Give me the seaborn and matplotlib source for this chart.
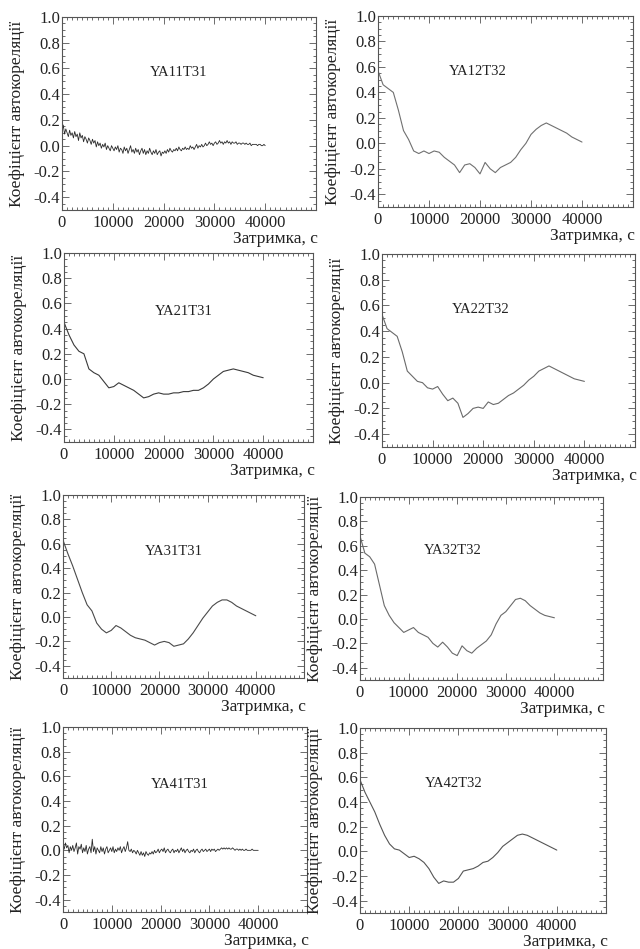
import numpy as np
import pandas as pd
import matplotlib
matplotlib.use("Agg")
import matplotlib.pyplot as plt
from matplotlib.ticker import MultipleLocator, FixedLocator, FormatStrFormatter
import seaborn as sns

# Lags (s) for the smooth series (1000 s step) and the noisy series (250 s step)
lag_smooth = list(range(0, 40001, 1000))
lag_noisy = list(range(0, 40001, 250))

ya11t31 = [0.11, 0.16, 0.09, 0.13, 0.10, 0.07, 0.12, 0.08, 0.10,
           0.06, 0.11, 0.07, 0.09, 0.04, 0.10, 0.06, 0.08,
           0.03, 0.07, 0.05, 0.02, 0.06, 0.04, 0.01, 0.05,
           0.02, 0.04, -0.01, 0.03, 0.00, 0.02, -0.02, 0.01,
           -0.01, 0.02, -0.03, 0.00, -0.02, -0.04, 0.00, -0.02,
           -0.04, -0.01, -0.03, 0.00, -0.05, -0.02, -0.03, -0.06,
           -0.01, -0.04, -0.02, -0.06, -0.03, 0.00, -0.05, -0.03,
           -0.06, -0.02, -0.05, -0.03, -0.07, -0.04, -0.02, -0.06,
           -0.03, -0.07, -0.04, -0.06, -0.02, -0.05, -0.07, -0.04,
           -0.06, -0.03, -0.07, -0.05, -0.04, -0.08, -0.05, -0.06,
           -0.04, -0.06, -0.03, -0.05, -0.02, -0.04, -0.05, -0.03,
           -0.04, -0.02, -0.04, -0.01, -0.03, -0.04, -0.02, -0.03,
           -0.01, -0.03, -0.02, -0.03, 0.00, -0.02, -0.01, -0.03,
           -0.01, 0.01, -0.02, 0.00, -0.01, 0.01, -0.01, 0.00,
           0.02, 0.00, 0.01, 0.03, 0.01, 0.02, 0.00, 0.02,
           0.03, 0.01, 0.02, 0.04, 0.02, 0.03, 0.01, 0.03,
           0.02, 0.04, 0.02, 0.03, 0.01, 0.03, 0.02, 0.02,
           0.03, 0.01, 0.02, 0.02, 0.01, 0.02, 0.02, 0.01,
           0.02, 0.01, 0.01, 0.02, 0.00, 0.01, 0.01, 0.01,
           0.01, 0.00, 0.01, 0.01, 0.00, 0.00, 0.01, 0.00]

ya12t32 = [0.57, 0.46, 0.43, 0.40, 0.26, 0.10, 0.03, -0.06, -0.08, -0.06,
           -0.08, -0.06, -0.07, -0.11, -0.14, -0.17, -0.23, -0.17, -0.16, -0.19,
           -0.24, -0.15, -0.20, -0.23, -0.19, -0.17, -0.15, -0.11, -0.05, 0.00,
           0.07, 0.11, 0.14, 0.16, 0.14, 0.12, 0.10, 0.08, 0.05, 0.03, 0.01]

ya21t31 = [0.45, 0.35, 0.27, 0.22, 0.20, 0.08, 0.05, 0.03, -0.02, -0.07,
           -0.06, -0.03, -0.05, -0.07, -0.09, -0.12, -0.15, -0.14, -0.12, -0.11,
           -0.12, -0.12, -0.11, -0.11, -0.10, -0.10, -0.09, -0.09, -0.07, -0.04,
           0.00, 0.03, 0.06, 0.07, 0.08, 0.07, 0.06, 0.05, 0.03, 0.02, 0.01]

ya22t32 = [0.53, 0.42, 0.39, 0.36, 0.24, 0.09, 0.05, 0.01, 0.00, -0.04,
           -0.05, -0.03, -0.09, -0.14, -0.12, -0.16, -0.27, -0.24, -0.20, -0.19,
           -0.20, -0.15, -0.17, -0.16, -0.13, -0.10, -0.08, -0.05, -0.02, 0.02,
           0.05, 0.09, 0.11, 0.13, 0.11, 0.09, 0.07, 0.05, 0.03, 0.02, 0.01]

ya31t31 = [0.63, 0.52, 0.42, 0.31, 0.20, 0.10, 0.05, -0.05, -0.10, -0.13,
           -0.11, -0.07, -0.09, -0.12, -0.15, -0.17, -0.18, -0.19, -0.21, -0.23,
           -0.21, -0.20, -0.21, -0.24, -0.23, -0.22, -0.18, -0.13, -0.07, -0.01,
           0.04, 0.09, 0.12, 0.14, 0.14, 0.12, 0.09, 0.07, 0.05, 0.03, 0.01]

ya32t32 = [0.68, 0.54, 0.51, 0.45, 0.28, 0.11, 0.03, -0.03, -0.07, -0.11,
           -0.09, -0.07, -0.11, -0.13, -0.15, -0.20, -0.23, -0.19, -0.23, -0.28,
           -0.30, -0.22, -0.26, -0.28, -0.24, -0.21, -0.18, -0.13, -0.04, 0.03,
           0.06, 0.11, 0.16, 0.17, 0.15, 0.11, 0.08, 0.05, 0.03, 0.02, 0.01]

ya41t31 = [0.05, 0.01, 0.06, 0.02, 0.04, -0.02, 0.03, 0.00, 0.04,
           -0.01, 0.02, 0.06, -0.03, 0.03, 0.01, 0.05, -0.02,
           0.02, -0.01, 0.04, -0.03, 0.01, 0.03, -0.02, 0.09,
           -0.01, 0.03, -0.03, 0.02, 0.00, -0.02, 0.03, -0.01,
           0.02, -0.03, 0.01, 0.03, -0.02, 0.00, 0.02, -0.01,
           0.03, -0.02, 0.01, -0.01, 0.02, 0.00, 0.03, -0.02,
           0.01, 0.03, -0.01, 0.02, 0.07, 0.00, -0.01, 0.01,
           -0.02, 0.00, -0.01, -0.03, 0.00, -0.02, -0.04, -0.01,
           -0.04, -0.02, -0.05, -0.01, -0.03, -0.04, -0.02, -0.03,
           -0.01, -0.03, 0.00, -0.02, -0.01, 0.01, -0.02, 0.00,
           0.01, -0.01, 0.02, -0.02, 0.00, 0.01, -0.01, -0.02,
           0.00, 0.01, -0.02, 0.00, -0.01, 0.01, -0.02, 0.00,
           0.02, -0.01, 0.01, -0.02, 0.00, 0.01, -0.01, -0.02,
           0.00, -0.01, 0.01, -0.02, 0.00, 0.01, -0.01, -0.02,
           0.00, 0.01, -0.01, 0.00, 0.01, -0.01, 0.00, 0.01,
           -0.01, 0.01, 0.00, 0.01, -0.01, 0.00, 0.01, 0.00,
           0.01, 0.02, 0.01, 0.02, 0.01, 0.02, 0.01, 0.02,
           0.01, 0.01, 0.02, 0.01, 0.00, 0.01, 0.01, 0.00,
           0.01, 0.00, 0.01, 0.00, 0.00, 0.01, 0.00, 0.00,
           0.00, 0.00, 0.01, 0.00, 0.00, 0.00, 0.00, 0.00]

ya42t32 = [0.58, 0.48, 0.40, 0.32, 0.22, 0.13, 0.06, 0.02, 0.01, -0.02,
           -0.05, -0.04, -0.06, -0.09, -0.14, -0.21, -0.26, -0.24, -0.25, -0.25,
           -0.22, -0.16, -0.15, -0.14, -0.12, -0.09, -0.08, -0.05, -0.01, 0.04,
           0.07, 0.10, 0.13, 0.14, 0.13, 0.11, 0.09, 0.07, 0.05, 0.03, 0.01]

panel_names = ["YA11T31", "YA12T32", "YA21T31", "YA22T32",
               "YA31T31", "YA32T32", "YA41T31", "YA42T32"]
panel_series = [(lag_noisy, ya11t31), (lag_smooth, ya12t32),
                (lag_smooth, ya21t31), (lag_smooth, ya22t32),
                (lag_smooth, ya31t31), (lag_smooth, ya32t32),
                (lag_noisy, ya41t31), (lag_smooth, ya42t32)]

y_label = "Коефіцієнт автокореляції"
x_label = "Затримка, с"

# Pixel boxes (left, top, right, bottom) of each panel on a 640x949 canvas
boxes = [(62, 17, 316, 210), (378, 16, 633, 207),
         (64, 253, 313, 442), (382, 254, 635, 447),
         (63, 495, 304, 678), (360, 497, 603, 680),
         (63, 727, 307, 912), (360, 728, 606, 913)]
title_pos = [(0.46, 0.71), (0.39, 0.71), (0.48, 0.69), (0.39, 0.71),
             (0.46, 0.69), (0.38, 0.71), (0.477, 0.69), (0.38, 0.70)]
line_colors = ["#2a2a2a", "#707070", "#3a3a3a", "#6a6a6a",
               "#4a4a4a", "#6a6a6a", "#2a2a2a", "#555555"]
line_widths = [0.6, 0.8, 0.8, 0.8, 0.8, 0.8, 0.6, 0.8]

sns.set_theme(style="ticks")
plt.rcParams["font.family"] = ["Liberation Serif", "DejaVu Serif"]
plt.rcParams["axes.unicode_minus"] = False

W, H = 640, 949
fig = plt.figure(figsize=(W / 100, H / 100), dpi=100)
fig.patch.set_facecolor("white")

text_color = "#222222"
for (l, t, r, b), name, (lags, vals), tpos, lc, lw in zip(
        boxes, panel_names, panel_series, title_pos, line_colors, line_widths):
    ax = fig.add_axes([l / W, 1 - b / H, (r - l) / W, (b - t) / H])
    df = pd.DataFrame({"lag": lags, "acf": vals})
    sns.lineplot(data=df, x="lag", y="acf", ax=ax, color=lc, linewidth=lw)
    ax.set_xlim(0, 50000)
    ax.set_ylim(-0.5, 1.0)
    ax.xaxis.set_major_locator(FixedLocator([0, 10000, 20000, 30000, 40000]))
    ax.xaxis.set_minor_locator(MultipleLocator(1000))
    ax.yaxis.set_major_locator(FixedLocator([-0.4, -0.2, 0.0, 0.2, 0.4, 0.6, 0.8, 1.0]))
    ax.yaxis.set_minor_locator(MultipleLocator(0.05))
    ax.xaxis.set_major_formatter(FormatStrFormatter("%d"))
    ax.yaxis.set_major_formatter(FormatStrFormatter("%.1f"))
    ax.tick_params(which="both", direction="in", top=True, right=True,
                   colors="#555555", labelcolor=text_color, width=0.6)
    ax.tick_params(which="major", length=5)
    ax.tick_params(which="minor", length=2.5)
    ax.tick_params(axis="y", which="major", pad=1.5, labelsize=12)
    ax.tick_params(axis="x", which="major", pad=3.5, labelsize=12)
    for sp in ax.spines.values():
        sp.set_color("#555555")
        sp.set_linewidth(0.8)
    wpx, hpx = r - l, b - t
    ax.set_ylabel(y_label, fontsize=12.5, color=text_color)
    ax.yaxis.set_label_coords(-37 / wpx, 0.5)
    ax.set_xlabel(x_label, fontsize=12.5, color=text_color, loc="right")
    ax.xaxis.set_label_coords(1 + 2 / wpx, -21 / hpx)
    ax.text(tpos[0], tpos[1], name, transform=ax.transAxes, ha="center",
            va="center", fontsize=10.5, color=text_color)

fig.savefig("out.png", dpi=100, facecolor="white")
